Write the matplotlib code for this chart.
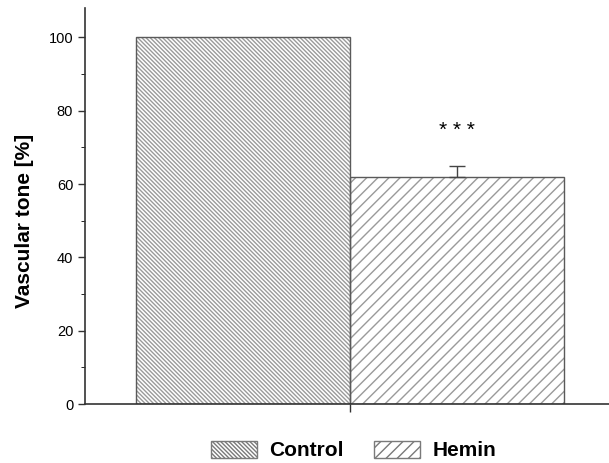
import matplotlib
matplotlib.use("Agg")
import matplotlib.pyplot as plt
from matplotlib.patches import Patch

# data
groups = ["Control", "Hemin"]
tone = [100.0, 62.0]
tone_err = [0.0, 2.8]
hatches = ["\\" * 8, "///"]
signif = "* * *"

plt.rcParams["font.family"] = ["Liberation Sans", "DejaVu Sans"]
plt.rcParams["hatch.linewidth"] = 1.0

fig = plt.figure(figsize=(6.09, 4.63), dpi=100)
ax = fig.add_axes([0.1396, 0.1274, 0.86, 0.8553])

edge = "#5a5a5a"
hatch_col = "#9a9a9a"
positions = [0, 1]
for pos, val, err, h in zip(positions, tone, tone_err, hatches):
    # hatch layer in light grey, then outline on top
    ax.bar(pos, val, width=1.0, color="white", edgecolor=hatch_col, hatch=h, linewidth=0, zorder=2)
    ax.bar(pos, val, width=1.0, fill=False, edgecolor=edge, linewidth=1.0, zorder=2.5)
    if err > 0:
        ax.errorbar(pos, val, yerr=[[0], [err]], fmt="none", ecolor="#444444",
                    elinewidth=1.0, capsize=6, capthick=1.0, zorder=3)
        ax.text(pos, 74.5, signif, ha="center", va="center", fontsize=15, color="black")

ax.set_xlim(-0.738, 1.71)
ax.set_ylim(0, 108)
ax.set_yticks([0, 20, 40, 60, 80, 100])
ax.set_yticks(range(10, 101, 20), minor=True)
ax.set_xticks([0.5])
ax.set_xticklabels([""])
ax.tick_params(axis="both", direction="out", color="#333333", width=1.0)
ax.tick_params(axis="y", which="major", length=5, labelsize=10.5)
ax.tick_params(axis="y", which="minor", length=3)
ax.tick_params(axis="x", which="major", length=6)
for side in ["top", "right"]:
    ax.spines[side].set_visible(False)
for side in ["left", "bottom"]:
    ax.spines[side].set_color("#333333")
    ax.spines[side].set_linewidth(1.2)
ax.set_ylabel("Vascular tone [%]", fontsize=15, fontweight="bold")
ax.yaxis.set_label_coords(-0.097, 0.462)

handles = [Patch(facecolor="white", edgecolor="#7a7a7a", hatch=h, linewidth=1.0) for h in hatches]
fig.legend(handles, groups, loc="center", bbox_to_anchor=(0.581, 0.027), ncol=2,
           frameon=False, prop={"size": 15, "weight": "bold"}, handlelength=2.2,
           handleheight=0.9, columnspacing=1.45, handletextpad=0.6)

fig.savefig("out.png", dpi=100)
